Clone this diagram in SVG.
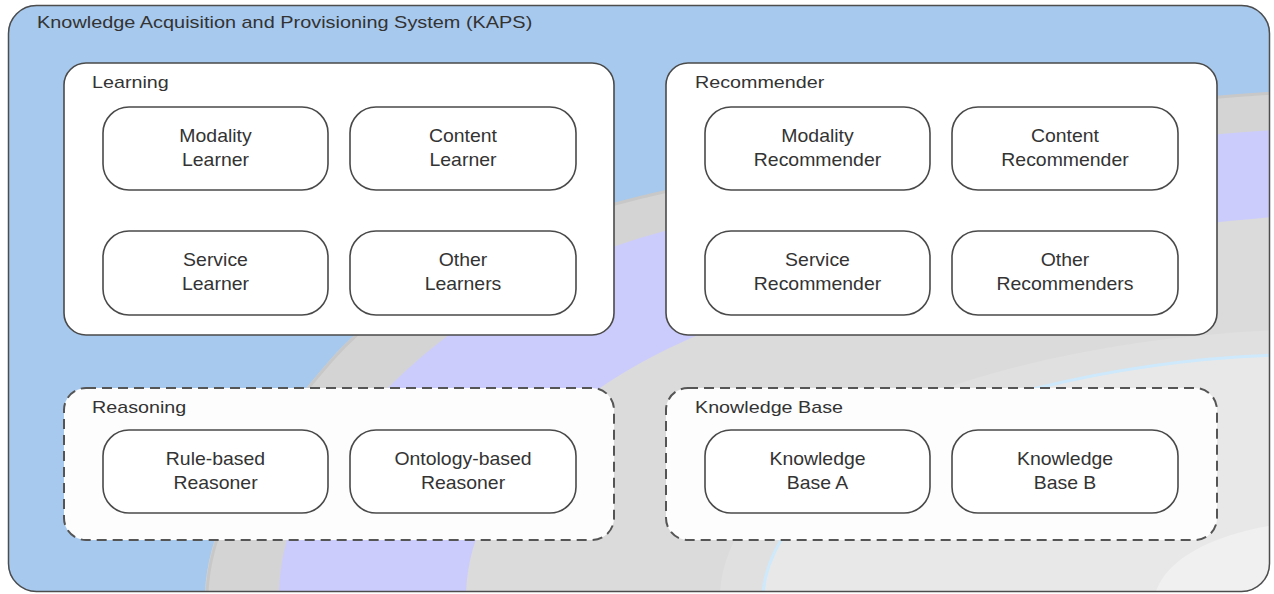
<svg xmlns="http://www.w3.org/2000/svg" width="1274" height="594" viewBox="0 0 1274 594">
<style>
  text { font-family: "Liberation Sans", Arial, sans-serif; fill: #333; }
  .title { font-size: 17px; }
  .glabel { font-size: 17px; }
  .nlabel { font-size: 18px; text-anchor: middle; }
  .group { fill: #fff; stroke: #4a4a4a; stroke-width: 1.6; }
  .dgroup { fill: #fdfdfd; stroke: #555; stroke-width: 2; stroke-dasharray: 10 6; }
  .node { fill: #fff; stroke: #4a4a4a; stroke-width: 1.6; }
</style>
<defs>
  <clipPath id="frameClip">
    <rect x="8" y="5" width="1262" height="587" rx="28" ry="28"/>
  </clipPath>
</defs>

<g id="background" clip-path="url(#frameClip)">
  <rect x="0" y="0" width="1274" height="594" fill="#a7c9ee"/>
  <path d="M205,594 C207,520 260,440 330,360 C390,291 520,225 640,197 C760,169 1000,110 1274,93 L1274,594 Z" fill="#d4d4d4"/>
  <path d="M207,594 C209,520 262,440 332,360 C392,291 522,225 642,197 C762,169 1002,110 1274,93" fill="none" stroke="#c8c8c8" stroke-width="3"/>
  <path d="M279,594 C280,520 320,455 388,388 C440,336 520,275 640,238 C820,185 1050,145 1274,130 L1274,594 Z" fill="#ccccfc"/>
  <path d="M466,594 C468,510 530,440 600,388 C700,318 900,250 1274,217 L1274,594 Z" fill="#dbdbdb"/>
  <path d="M720,594 C722,520 800,440 940,390 C1050,352 1160,336 1274,330 L1274,594 Z" fill="#e0e0e0"/>
  <path d="M763,594 C768,520 860,430 1037,388 C1110,370 1190,358 1274,355 L1274,594 Z" fill="#e8e8e8"/>
  <path d="M763,594 C768,520 860,430 1037,388 C1110,370 1190,358 1274,355" fill="none" stroke="#cde9fb" stroke-width="3"/>
  <path d="M1155,594 C1165,560 1210,535 1274,525 L1274,594 Z" fill="#f0f0f0"/>
</g>

<g id="kaps">
  <rect x="8.5" y="5.5" width="1261" height="586" rx="28" ry="28" fill="none" stroke="#4d4d4d" stroke-width="1.5"/>
  <text class="title" transform="translate(37,28) scale(1.17,1)">Knowledge Acquisition and Provisioning System (KAPS)</text>
</g>

<g id="learning">
  <rect class="group" x="64" y="63" width="550" height="272" rx="22" ry="22"/>
  <text class="glabel" transform="translate(92,88) scale(1.16,1)">Learning</text>
</g>
<g id="recommender">
  <rect class="group" x="666" y="63" width="551" height="272" rx="22" ry="22"/>
  <text class="glabel" transform="translate(695,88) scale(1.16,1)">Recommender</text>
</g>
<g id="reasoning">
  <rect class="dgroup" x="64" y="388" width="550" height="152" rx="22" ry="22"/>
  <text class="glabel" transform="translate(92,413) scale(1.16,1)">Reasoning</text>
</g>
<g id="knowledge-base">
  <rect class="dgroup" x="666" y="388" width="551" height="152" rx="22" ry="22"/>
  <text class="glabel" transform="translate(695,413) scale(1.16,1)">Knowledge Base</text>
</g>

<g id="modality-learner">
  <rect class="node" x="103" y="107" width="225" height="83" rx="26" ry="26"/>
  <text class="nlabel" transform="translate(215.5,142) scale(1.08,1)">Modality</text>
  <text class="nlabel" transform="translate(215.5,166) scale(1.08,1)">Learner</text>
</g>
<g id="content-learner">
  <rect class="node" x="350" y="107" width="226" height="83" rx="26" ry="26"/>
  <text class="nlabel" transform="translate(463,142) scale(1.08,1)">Content</text>
  <text class="nlabel" transform="translate(463,166) scale(1.08,1)">Learner</text>
</g>
<g id="service-learner">
  <rect class="node" x="103" y="231" width="225" height="84" rx="26" ry="26"/>
  <text class="nlabel" transform="translate(215.5,266) scale(1.08,1)">Service</text>
  <text class="nlabel" transform="translate(215.5,290) scale(1.08,1)">Learner</text>
</g>
<g id="other-learners">
  <rect class="node" x="350" y="231" width="226" height="84" rx="26" ry="26"/>
  <text class="nlabel" transform="translate(463,266) scale(1.08,1)">Other</text>
  <text class="nlabel" transform="translate(463,290) scale(1.08,1)">Learners</text>
</g>

<g id="modality-recommender">
  <rect class="node" x="705" y="107" width="225" height="83" rx="26" ry="26"/>
  <text class="nlabel" transform="translate(817.5,142) scale(1.08,1)">Modality</text>
  <text class="nlabel" transform="translate(817.5,166) scale(1.08,1)">Recommender</text>
</g>
<g id="content-recommender">
  <rect class="node" x="952" y="107" width="226" height="83" rx="26" ry="26"/>
  <text class="nlabel" transform="translate(1065,142) scale(1.08,1)">Content</text>
  <text class="nlabel" transform="translate(1065,166) scale(1.08,1)">Recommender</text>
</g>
<g id="service-recommender">
  <rect class="node" x="705" y="231" width="225" height="84" rx="26" ry="26"/>
  <text class="nlabel" transform="translate(817.5,266) scale(1.08,1)">Service</text>
  <text class="nlabel" transform="translate(817.5,290) scale(1.08,1)">Recommender</text>
</g>
<g id="other-recommenders">
  <rect class="node" x="952" y="231" width="226" height="84" rx="26" ry="26"/>
  <text class="nlabel" transform="translate(1065,266) scale(1.08,1)">Other</text>
  <text class="nlabel" transform="translate(1065,290) scale(1.08,1)">Recommenders</text>
</g>

<g id="rule-based-reasoner">
  <rect class="node" x="103" y="430" width="225" height="83" rx="26" ry="26"/>
  <text class="nlabel" transform="translate(215.5,465) scale(1.08,1)">Rule-based</text>
  <text class="nlabel" transform="translate(215.5,489) scale(1.08,1)">Reasoner</text>
</g>
<g id="ontology-based-reasoner">
  <rect class="node" x="350" y="430" width="226" height="83" rx="26" ry="26"/>
  <text class="nlabel" transform="translate(463,465) scale(1.08,1)">Ontology-based</text>
  <text class="nlabel" transform="translate(463,489) scale(1.08,1)">Reasoner</text>
</g>

<g id="knowledge-base-a">
  <rect class="node" x="705" y="430" width="225" height="83" rx="26" ry="26"/>
  <text class="nlabel" transform="translate(817.5,465) scale(1.08,1)">Knowledge</text>
  <text class="nlabel" transform="translate(817.5,489) scale(1.08,1)">Base A</text>
</g>
<g id="knowledge-base-b">
  <rect class="node" x="952" y="430" width="226" height="83" rx="26" ry="26"/>
  <text class="nlabel" transform="translate(1065,465) scale(1.08,1)">Knowledge</text>
  <text class="nlabel" transform="translate(1065,489) scale(1.08,1)">Base B</text>
</g>

<g id="connectors"></g>
</svg>
